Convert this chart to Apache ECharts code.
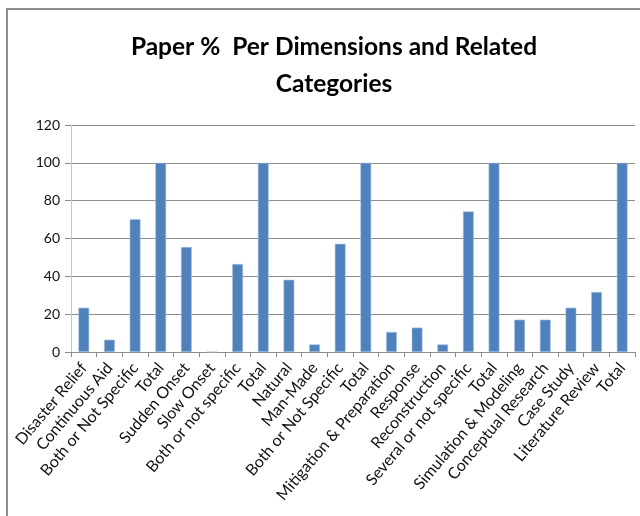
<!DOCTYPE html>
<html>
<head>
<meta charset="utf-8">
<script src="https://cdn.jsdelivr.net/npm/echarts@6/dist/echarts.min.js"></script>
<style>
html,body{margin:0;padding:0;background:#fff;}
#chart{width:640px;height:516px;}
</style>
</head>
<body>
<div id="chart"></div>
<script>
const categories = ["Disaster Relief","Continuous Aid","Both or Not Specific","Total","Sudden Onset","Slow Onset","Both or not specific","Total","Natural","Man-Made","Both or Not Specific","Total","Mitigation & Preparation","Response","Reconstruction","Several or not specific","Total","Simulation & Modeling","Conceptual Research","Case Study","Literature Review","Total"];
const values = [23.4,6.5,70.2,100,55.5,0,46.5,100,38.2,4.0,57.2,100,10.6,12.9,4.0,74.3,100,17.1,17.1,23.4,31.7,100];
const yTicks = {min:0,max:120,interval:20};
const titleText = "Paper %  Per Dimensions and Related\nCategories";

const chart = echarts.init(document.getElementById('chart'));
chart.setOption({
  animation:false,
  backgroundColor:'#fff',
  title:{
    text:titleText,
    left:329, textAlign:'center', top:24,
    textStyle:{fontFamily:'Lato',fontWeight:'bold',fontSize:24.5,color:'#000',lineHeight:37}
  },
  graphic:[{
    type:'polyline',
    shape:{points:[[7,520],[7,9],[645,9]]},
    style:{stroke:'#8c8c8c',lineWidth:2,fill:null},
    silent:true
  }],
  grid:{left:71,right:5,top:125,bottom:164},
  xAxis:{
    type:'category',
    data:categories,
    axisLine:{lineStyle:{color:'#8c8c8c'}},
    axisTick:{show:true,interval:0,length:5,lineStyle:{color:'#8c8c8c'}},
    axisLabel:{interval:0,rotate:50,fontFamily:'Lato',fontSize:16,color:'#111',margin:13}
  },
  yAxis:{
    type:'value',
    min:yTicks.min,max:yTicks.max,interval:yTicks.interval,
    axisLine:{show:true,lineStyle:{color:'#c8c8c8'}},
    axisTick:{show:true,length:6,lineStyle:{color:'#8c8c8c'}},
    splitLine:{lineStyle:{color:'#8c8c8c'}},
    axisLabel:{fontFamily:'Lato',fontSize:14,color:'#111',margin:11}
  },
  series:[{
    type:'bar',
    data:values,
    barWidth:'42%',
    itemStyle:{color:'#4f81bd',borderColor:'#a8c0e0',borderWidth:0.6}
  }]
});
</script>
</body>
</html>
